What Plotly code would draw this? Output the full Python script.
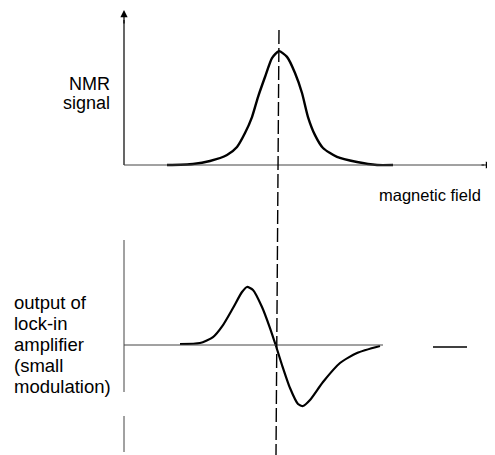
import plotly.graph_objects as go

# NMR absorption signal (arbitrary units): field offset from resonance, amplitude
field_top = [-11.1, -8.5, -6.8, -5.1, -4.1, -3.3, -2.6, -2.0, -1.3, -0.6, 0.1, 0.9, 1.7, 2.4, 3.0, 3.7, 4.5, 5.9, 7.9, 9.9, 11.5]
signal = [0.0, 0.009, 0.035, 0.087, 0.157, 0.278, 0.417, 0.591, 0.765, 0.93, 0.99, 0.94, 0.80, 0.626, 0.417, 0.26, 0.148, 0.07, 0.026, 0.0, 0.0]

# Lock-in amplifier output (derivative, small modulation)
field_bot = [-9.8, -7.8, -6.5, -5.5, -4.5, -3.6, -3.1, -2.5, -1.6, -0.8, -0.2, 0.4, 1.2, 2.0, 2.5, 3.2, 4.5, 6.2, 7.9, 10.2]
lockin = [0.017, 0.033, 0.133, 0.333, 0.617, 0.883, 0.967, 0.917, 0.633, 0.283, -0.017, -0.333, -0.717, -0.983, -1.017, -0.917, -0.617, -0.3, -0.133, -0.017]

OFF = 8  # page body margin
W, H = 495 - OFF, 455 - OFF
X0 = 278.0  # pixel of resonance
XS = 10.0   # px per field unit
def xr(px):
    return (px - X0) / XS

# top axis: baseline pixel 165, 115 px per unit ; bottom: zero at 345, 60 px per unit
def yt(py):
    return (165 - py) / 115.0
def yb(py):
    return (345 - py) / 60.0

fig = go.Figure()
fig.add_trace(go.Scatter(x=field_top, y=signal, mode="lines", line=dict(color="black", width=2.4, shape="spline", smoothing=0.6),
                         xaxis="x", yaxis="y", hoverinfo="skip"))
fig.add_trace(go.Scatter(x=field_bot, y=lockin, mode="lines", line=dict(color="black", width=2.2, shape="spline", smoothing=0.6),
                         xaxis="x", yaxis="y2", hoverinfo="skip"))

axcol = "#444444"
shapes = [
    # top axes
    dict(type="line", xref="x", yref="y", x0=xr(124), x1=xr(124), y0=0, y1=yt(20), line=dict(color="black", width=1.2)),
    dict(type="line", xref="x", yref="y", x0=xr(124), x1=xr(484), y0=0, y1=0, line=dict(color=axcol, width=1)),
    # bottom axes
    dict(type="line", xref="x", yref="y2", x0=xr(124), x1=xr(124), y0=yb(240), y1=yb(392), line=dict(color=axcol, width=1)),
    dict(type="line", xref="x", yref="y2", x0=xr(124), x1=xr(124), y0=yb(416), y1=yb(452), line=dict(color=axcol, width=1)),
    dict(type="line", xref="x", yref="y2", x0=xr(124), x1=xr(383), y0=0, y1=0, line=dict(color=axcol, width=1)),
    dict(type="line", xref="x", yref="y2", x0=xr(433), x1=xr(467), y0=yb(347), y1=yb(347), line=dict(color="black", width=1.5)),
    # dashed resonance line
    dict(type="line", xref="x", yref="y", x0=0.1, x1=-0.2, y0=yt(30), y1=yt(455), line=dict(color="black", width=1.4, dash="14px,4px")),
]

def txt(s, px, py, anchor="left", size=18):
    return dict(text=s, x=(px - OFF) / W, y=1 - (py - OFF) / H, xref="paper", yref="paper", showarrow=False,
                xanchor=anchor, yanchor="middle", font=dict(size=size, color="black", family="Liberation Sans, Arial, sans-serif"))

annotations = [
    # arrows
    dict(x=xr(124), y=yt(10), ax=xr(124), ay=yt(25), xref="x", yref="y", axref="x", ayref="y",
         showarrow=True, arrowhead=2, arrowsize=1.2, arrowwidth=1.2, arrowcolor="black", text=""),
    dict(x=xr(493), y=0, ax=xr(480), ay=0, xref="x", yref="y", axref="x", ayref="y",
         showarrow=True, arrowhead=2, arrowsize=1.2, arrowwidth=1.2, arrowcolor="black", text=""),
    txt("NMR", 112, 84, "right"),
    txt("signal", 112, 103, "right"),
    txt("magnetic field", 377, 195, "left", 16.5),
    txt("output of", 12, 302, "left", 18.5),
    txt("lock-in", 12, 323, "left", 18.5),
    txt("amplifier", 12, 344, "left", 18.5),
    txt("(small", 12, 365, "left", 18.5),
    txt("modulation)", 12, 386, "left", 18.5),
]

fig.update_layout(
    width=W, height=H, margin=dict(l=0, r=0, t=0, b=0),
    paper_bgcolor="white", plot_bgcolor="white", showlegend=False,
    xaxis=dict(range=[xr(OFF), xr(OFF + W)], visible=False, fixedrange=True),
    yaxis=dict(range=[yt(OFF + H), yt(OFF)], visible=False, fixedrange=True),
    yaxis2=dict(range=[yb(OFF + H), yb(OFF)], visible=False, overlaying="y", fixedrange=True),
    shapes=shapes, annotations=annotations,
)

fig.write_html("out.html")
